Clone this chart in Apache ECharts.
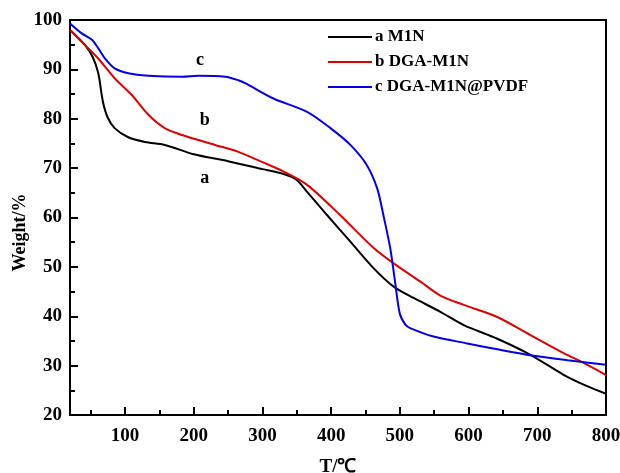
<!DOCTYPE html>
<html>
<head>
<meta charset="utf-8">
<script src="https://cdn.jsdelivr.net/npm/echarts@6/dist/echarts.min.js"></script>
<style>html,body{margin:0;padding:0;background:#fff;}#chart{width:620px;height:473px;}</style>
</head>
<body>
<div id="chart"></div>
<script>
const seriesNames = ['a M1N', 'b DGA-M1N', 'c DGA-M1N@PVDF'];

const tempA = [20, 30, 42, 53, 61, 68, 75, 85, 104, 129, 158, 200, 250, 300, 331, 350, 365, 394, 428, 462, 491, 520, 559, 593, 641, 690, 739, 770, 800];
const weightA = [98, 96.6, 94.9, 92.5, 89.3, 83.4, 80.2, 78.1, 76.3, 75.3, 74.7, 72.8, 71.4, 69.8, 68.8, 67.6, 65.2, 60.5, 55.1, 49.7, 46, 43.7, 40.9, 38.2, 35.5, 32.2, 28.1, 26, 24.3];

const tempB = [20, 30, 42, 61, 85, 110, 134, 158, 183, 231, 265, 300, 331, 365, 413, 462, 491, 530, 559, 593, 641, 690, 739, 768, 800];
const weightB = [98, 96.6, 94.9, 92.2, 88.2, 84.8, 80.8, 78.1, 76.7, 74.7, 73.3, 71.2, 69.3, 66.6, 60.5, 53.8, 50.7, 47, 44.2, 42.3, 39.9, 36.2, 32.5, 30.5, 28.1];

const tempC = [20, 37, 52, 61, 71, 85, 105, 134, 183, 207, 246, 265, 275, 316, 365, 399, 428, 452, 467, 476, 486, 493, 500, 508, 515, 549, 598, 646, 695, 744, 800];
const weightC = [99.3, 97.3, 96, 94.3, 92.2, 90.2, 89.2, 88.7, 88.5, 88.7, 88.5, 87.8, 87.2, 84.1, 81.4, 78.1, 74.7, 70.6, 65.9, 60.5, 53.8, 47, 40.5, 38.3, 37.6, 35.9, 34.5, 33.2, 32, 31.1, 30.2];

const xMajorTicks = [100, 200, 300, 400, 500, 600, 700, 800];
const xMinorTicks = [50, 150, 250, 350, 450, 550, 650, 750];

const curveLabels = ['a', 'b', 'c'];
const curveLabelT = [216, 216, 209];
const curveLabelW = [68, 79.6, 91.9];

const colors = ['#000000', '#e00000', '#0000ee'];

function pairs(xs, ys) { return xs.map((x, i) => [x, ys[i]]); }

const font = '"Liberation Serif", "Times New Roman", serif';
const chart = echarts.init(document.getElementById('chart'));
chart.setOption({
  animation: false,
  backgroundColor: '#ffffff',
  grid: { left: 70, right: 14, top: 20, bottom: 58, outerBoundsMode: 'none', containLabel: false, show: true, borderColor: '#000', borderWidth: 2, backgroundColor: 'transparent' },
  legend: {
    data: seriesNames.map(n => ({ name: n, icon: 'rect' })),
    orient: 'vertical',
    left: 328, top: 28, padding: 0,
    itemWidth: 44, itemHeight: 2, itemGap: 7,
    textStyle: { fontFamily: font, fontWeight: 'bold', fontSize: 17, color: '#000', lineHeight: 18, padding: [0, 0, 0, -2] }
  },
  xAxis: [{
    type: 'value', min: 20, max: 800,
    name: 'T/℃', nameLocation: 'middle', nameGap: 43, nameMoveOverlap: false,
    nameTextStyle: { fontFamily: font, fontWeight: 'bold', fontSize: 19, color: '#000' },
    axisLine: { show: true, lineStyle: { color: '#000', width: 2 } },
    axisTick: { show: true, inside: true, length: 8, customValues: xMajorTicks, lineStyle: { color: '#000', width: 2 } },
    axisLabel: { customValues: xMajorTicks, margin: 12, fontFamily: font, fontWeight: 'bold', fontSize: 19, color: '#000' },
    splitLine: { show: false }
  }, {
    type: 'value', min: 20, max: 800, position: 'bottom', offset: 0,
    axisLine: { show: false },
    axisTick: { show: true, inside: true, length: 5, customValues: xMinorTicks, lineStyle: { color: '#000', width: 2 } },
    axisLabel: { show: false },
    splitLine: { show: false }
  }],
  yAxis: {
    type: 'value', min: 20, max: 100, interval: 10,
    name: 'Weight/%', nameLocation: 'middle', nameGap: 41, nameRotate: 90, nameMoveOverlap: false,
    nameTextStyle: { fontFamily: font, fontWeight: 'bold', fontSize: 18, color: '#000', padding: [0, 30, 0, 0] },
    axisLine: { show: true, lineStyle: { color: '#000', width: 2 } },
    axisTick: { show: true, inside: true, length: 8, lineStyle: { color: '#000', width: 2 } },
    minorTick: { show: true, splitNumber: 2, length: 5, lineStyle: { color: '#000', width: 2 } },
    axisLabel: { margin: 8, fontFamily: font, fontWeight: 'bold', fontSize: 19, color: '#000' },
    splitLine: { show: false }
  },
  series: [
    { name: seriesNames[0], type: 'line', xAxisIndex: 0, data: pairs(tempA, weightA), symbol: 'none', smooth: 0.3, lineStyle: { color: colors[0], width: 2 }, itemStyle: { color: colors[0] } },
    { name: seriesNames[1], type: 'line', xAxisIndex: 0, data: pairs(tempB, weightB), symbol: 'none', smooth: 0.3, lineStyle: { color: colors[1], width: 2 }, itemStyle: { color: colors[1] } },
    { name: seriesNames[2], type: 'line', xAxisIndex: 0, data: pairs(tempC, weightC), symbol: 'none', smooth: 0.3, lineStyle: { color: colors[2], width: 2 }, itemStyle: { color: colors[2] } },
    {
      name: 'curveLabels', type: 'scatter', xAxisIndex: 0, symbolSize: 1,
      itemStyle: { color: 'rgba(0,0,0,0)', opacity: 1 },
      data: curveLabels.map((t, i) => ({ value: [curveLabelT[i], curveLabelW[i]], name: t })),
      label: { show: true, position: 'inside', formatter: p => p.name, fontFamily: font, fontWeight: 'bold', fontSize: 18, color: '#000', opacity: 1, textBorderWidth: 0 },
      emphasis: { disabled: true },
      silent: true
    }
  ]
});
</script>
</body>
</html>
